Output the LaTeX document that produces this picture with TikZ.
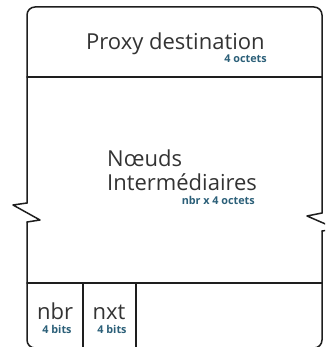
\documentclass[tikz,border=0pt]{standalone}
\usepackage{fontspec}
\setmainfont{Open Sans}
\definecolor{txt}{HTML}{333333}
\definecolor{subc}{HTML}{2B5F78}
\definecolor{ln}{HTML}{1E1E1E}
\tikzset{
  outline/.style={draw=ln, line width=1.5pt, line cap=round, line join=round},
  bigtext/.style={inner sep=0pt, text=txt, font=\fontsize{22}{23}\selectfont},
  smalltext/.style={inner sep=0pt, text=subc, font=\fontsize{10.8}{11}\selectfont\bfseries},
}
\begin{document}
\begin{tikzpicture}[x=1pt,y=-1pt]
\useasboundingbox (0,0) rectangle (325,347);
\begin{scope}
\clip (0,0) rectangle (325,347);
% upper outline
\draw[outline, rounded corners=8pt] (27,203) -- (27,7) -- (322,7) -- (322,213);
% zigzags
\draw[outline] (27,203) -- (13,205) -- (40,220) -- (27,222);
\draw[outline] (322,213) -- (307,216) -- (337,229) -- (322,231);
% lower outline
\draw[outline, rounded corners=8pt] (27,222) -- (27,348) -- (322,348) -- (322,231);
% dividers
\coordinate (h1l) at (27,77);  \coordinate (h1r) at (322,77);
\coordinate (h2l) at (27,283); \coordinate (h2r) at (322,283);
\coordinate (v1t) at (83,283); \coordinate (v1b) at (83,348);
\coordinate (v2t) at (136,283); \coordinate (v2b) at (136,348);
\draw[outline] (h1l) -- (h1r);
\draw[outline] (h2l) -- (h2r);
\draw[outline] (v1t) -- (v1b);
\draw[outline] (v2t) -- (v2b);
\end{scope}
% texts
\node[bigtext, anchor=base west] (proxy) at (86,50) {Proxy destination};
\node[smalltext, anchor=base east] (proxyo) at (267,63) {4 octets};
\node[bigtext, anchor=base west] (noeuds) at (107,167) {Nœuds};
\node[bigtext, anchor=base west] (inter) at (107,190) {Intermédiaires};
\node[smalltext, anchor=base east] (intero) at (255,204) {nbr x 4 octets};
\node[bigtext, anchor=base] (nbr) at (55,319) {nbr};
\node[smalltext, anchor=base] (nbrb) at (57,333) {4 bits};
\node[bigtext, anchor=base] (nxt) at (109,319) {nxt};
\node[smalltext, anchor=base] (nxtb) at (112,333) {4 bits};
\end{tikzpicture}
\end{document}
